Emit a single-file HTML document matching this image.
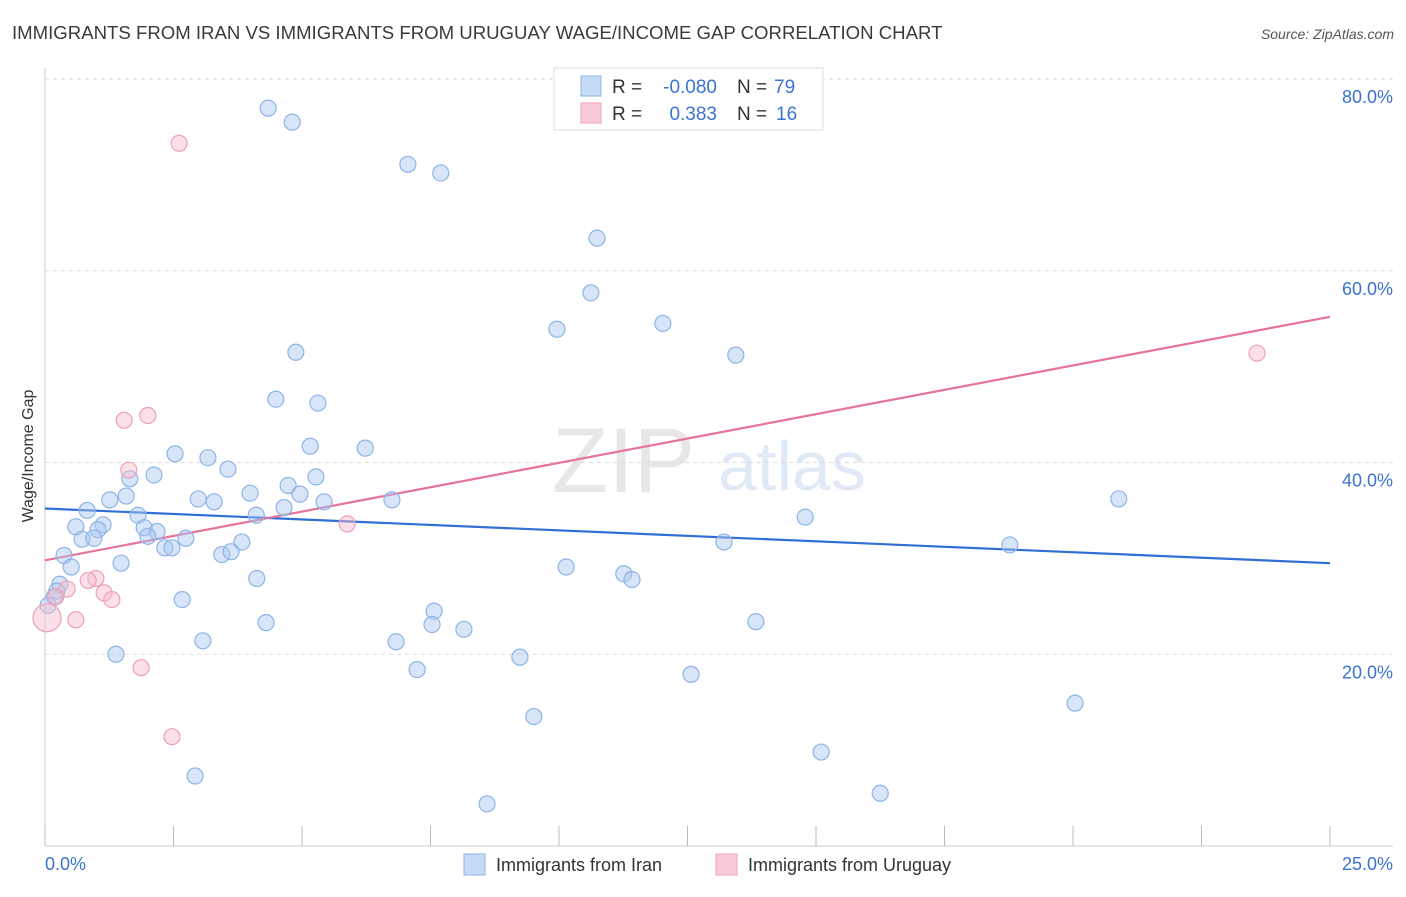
<!DOCTYPE html>
<html><head><meta charset="utf-8"><style>
body{margin:0;background:#fff;font-family:"Liberation Sans",sans-serif;}
svg text{font-family:"Liberation Sans",sans-serif;}
</style></head><body>
<svg id="chart" width="1406" height="892" xmlns="http://www.w3.org/2000/svg">
<text x="12" y="39" font-size="18.6" fill="#3a3a3a">IMMIGRANTS FROM IRAN VS IMMIGRANTS FROM URUGUAY WAGE/INCOME GAP CORRELATION CHART</text>
<text x="1394" y="39" font-size="14" fill="#555" font-style="italic" text-anchor="end">Source: ZipAtlas.com</text>
<g opacity="0.35">
<text x="552" y="492" font-size="92" fill="#bbb" font-family="Liberation Serif">ZIP</text>
<text x="718" y="490" font-size="70" fill="#a9c4ea">atlas</text>
</g>
<g id="grid"></g>
<g id="axes"></g>
<g id="trends"></g>
<g id="pts"></g>
<text transform="translate(33,456) rotate(-90)" font-size="16" fill="#333" text-anchor="middle">Wage/Income Gap</text>
<g font-size="19">
<rect x="554" y="68" width="269" height="62" fill="#fff" stroke="#ddd"/>
<rect x="581" y="76" width="20" height="20" fill="#c5daf5" stroke="#8db4e8"/>
<rect x="581" y="103" width="20" height="20" fill="#f9cbd8" stroke="#eea0b8"/>
<text x="612" y="93" fill="#333">R =</text>
<text x="717" y="93" fill="#3b73d1" text-anchor="end">-0.080</text>
<text x="737" y="93" fill="#333">N =</text>
<text x="774" y="93" fill="#3b73d1">79</text>
<text x="612" y="120" fill="#333">R =</text>
<text x="717" y="120" fill="#3b73d1" text-anchor="end">0.383</text>
<text x="737" y="120" fill="#333">N =</text>
<text x="776" y="120" fill="#3b73d1">16</text>
</g>
<g>
<rect x="464" y="854" width="21" height="21" fill="#c5daf5" stroke="#8db4e8"/>
<text x="496" y="871" font-size="18" fill="#333">Immigrants from Iran</text>
<rect x="716" y="854" width="21" height="21" fill="#f9cbd8" stroke="#eea0b8"/>
<text x="748" y="871" font-size="18" fill="#333">Immigrants from Uruguay</text>
</g>
</svg>
<script>
const yTicks=[20,40,60,80];
const xTickLabels=["0.0%","25.0%"];
const iranX=[4.34,4.81,7.06,7.70,10.74,10.62,9.96,12.02,13.44,4.88,4.49,5.31,6.23,5.16,2.53,3.17,3.56,2.12,1.65,5.27,4.73,3.99,4.96,1.58,1.26,2.98,3.29,6.75,5.43,20.89,0.82,4.65,4.11,1.81,14.79,0.60,1.13,1.03,1.93,2.18,2.00,2.74,0.72,0.95,3.83,13.21,18.77,2.33,2.47,3.44,3.62,0.37,1.48,10.14,0.51,11.26,11.42,4.12,0.29,0.23,0.18,2.67,7.57,7.53,4.30,13.83,8.15,3.07,6.83,1.38,9.24,7.24,12.57,20.04,9.51,15.10,2.92,16.25,8.60,0.06];
const iranY=[76.96,75.5,71.1,70.2,63.4,57.7,53.9,54.5,51.2,51.5,46.6,46.2,41.5,41.7,40.9,40.5,39.3,38.7,38.3,38.5,37.6,36.8,36.7,36.5,36.1,36.2,35.9,36.1,35.9,36.2,35.0,35.3,34.5,34.5,34.3,33.3,33.5,33.0,33.2,32.8,32.3,32.1,32.0,32.1,31.7,31.7,31.4,31.1,31.1,30.4,30.7,30.3,29.5,29.1,29.1,28.4,27.8,27.9,27.3,26.6,26.0,25.7,24.5,23.1,23.3,23.4,22.6,21.4,21.3,20.0,19.7,18.4,17.9,14.9,13.5,9.8,7.3,5.5,4.4,25.1];
const uruX=[2.61,23.58,2.00,1.54,1.63,5.88,0.99,0.84,0.43,1.15,1.30,0.21,0.60,0.04,1.87,2.47];
const uruY=[73.3,51.4,44.9,44.4,39.2,33.6,27.9,27.7,26.8,26.4,25.7,26.0,23.6,23.8,18.6,11.4];
const iranTrend=[35.2,29.5];
const uruTrend=[29.8,55.2];
const X0=45,X1=1330,Y0=846,Y80=79;
const sx=v=>X0+v*(X1-X0)/25;
const sy=v=>Y0-v*(Y0-Y80)/80;
const NS="http://www.w3.org/2000/svg";
function mk(parent,tag,attrs){const e=document.createElementNS(NS,tag);for(const k in attrs)e.setAttribute(k,attrs[k]);document.getElementById(parent).appendChild(e);return e;}
yTicks.forEach(t=>{
 const l=mk('grid','line',{x1:45,x2:1393,y1:sy(t),y2:sy(t),stroke:'#ddd','stroke-dasharray':'4,4'});
 
 
 const tx=mk('grid','text',{x:1393,y:sy(t)+24,'font-size':18,fill:'#3b73d1','text-anchor':'end'});
 tx.textContent=t.toFixed(1)+'%';
 
 
});
const ax=mk('axes','line',{x1:45,x2:45,y1:68,y2:846,stroke:'#ccc'});


const bx=mk('axes','line',{x1:45,x2:1393,y1:846,y2:846,stroke:'#ccc'});


for(let i=0;i<=10;i++){
 const t=mk('axes','line',{x1:sx(i*2.5),x2:sx(i*2.5),y1:826,y2:846,stroke:'#bbb'});
 
 
}
const xl0=mk('axes','text',{x:45,y:870,'font-size':18,fill:'#3b73d1'});xl0.textContent=xTickLabels[0];


const xl1=mk('axes','text',{x:1393,y:870,'font-size':18,fill:'#3b73d1','text-anchor':'end'});xl1.textContent=xTickLabels[1];


iranX.forEach((x,i)=>{
 const c=mk('pts','circle',{cx:sx(x),cy:sy(iranY[i]),r:8,fill:'rgba(168,198,240,0.45)',stroke:'#8db4e8','stroke-width':1.2});
 
 
});
uruX.forEach((x,i)=>{
 const c=mk('pts','circle',{cx:sx(x),cy:sy(uruY[i]),r:i===13?14:8,fill:'rgba(246,186,204,0.45)',stroke:'#eea0b8','stroke-width':1.2});
 
 
});
const tl1=mk('trends','line',{x1:sx(0),y1:sy(iranTrend[0]),x2:sx(25),y2:sy(iranTrend[1]),stroke:'#2f6fd6','stroke-width':2.2});


const tl2=mk('trends','line',{x1:sx(0),y1:sy(uruTrend[0]),x2:sx(25),y2:sy(uruTrend[1]),stroke:'#e8739a','stroke-width':2.2});


</script>
</body></html>
